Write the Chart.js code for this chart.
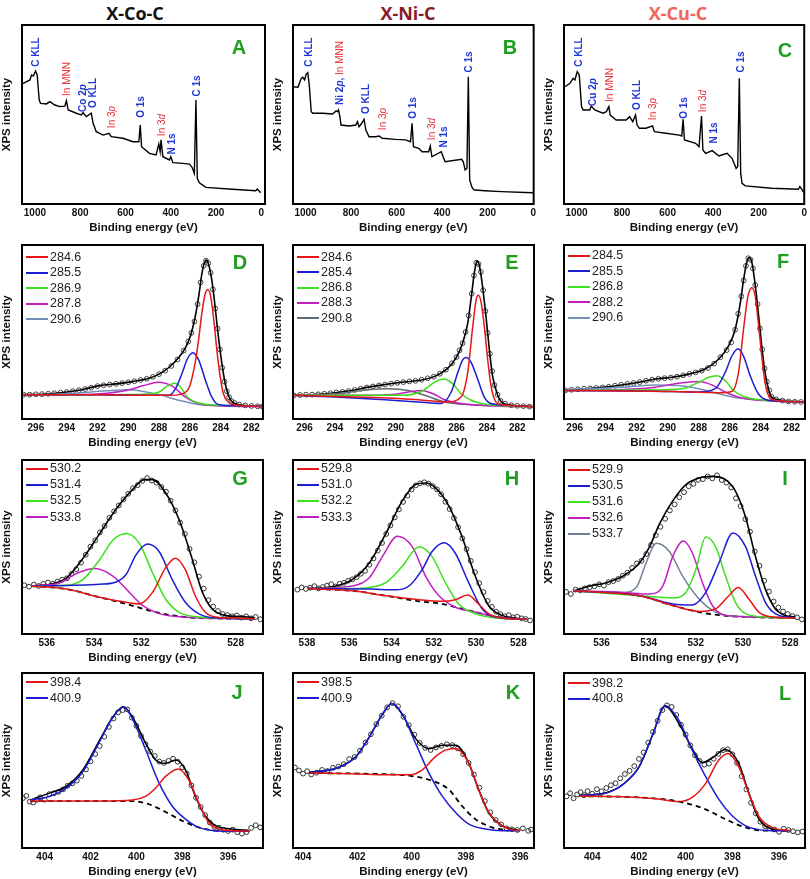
<!DOCTYPE html>
<html><head><meta charset="utf-8">
<script src="https://cdn.jsdelivr.net/npm/chart.js@4.4.0/dist/chart.umd.min.js"></script>
<style>
html,body{margin:0;padding:0;background:#fff;}
body{width:810px;height:879px;overflow:hidden;position:relative;font-family:"Liberation Sans",Arial,sans-serif;}
canvas{position:absolute;}
.t{position:absolute;white-space:nowrap;line-height:1;}
.col{font-family:"Open Sans",sans-serif;font-weight:700;font-size:18px;transform:translate(-50%,-50%);}
.pl{font-weight:700;font-size:20px;color:#1f9e1f;transform:translate(-50%,-50%);}
.an{font-size:10px;transform:translate(-50%,-50%) rotate(-90deg);}
.b{color:#1f35d8;font-weight:700;}
.r{color:#e8303a;font-weight:400;}
.lgl{position:absolute;width:22px;height:0;border-top:2px solid;}
.lgt{position:absolute;font-size:12.5px;color:#222;line-height:1;}
</style></head><body>
<script>
// ---------------- DATA (binding energy eV, intensity in % of frame height) ----------------
const A_trace=[[1059,66.9],[1022,69.3],[1015,72.1],[1007,71.5],[997,74.3],[990,72.1],[981,58.1],[975,56.2],[949,55.9],[934,57.2],[912,55.3],[890,54.4],[868,54.7],[861,57.7],[853,52.5],[817,50.7],[795,49.7],[787,51.0],[773,48.8],[751,50.7],[743,45.1],[729,40.4],[699,38.5],[673,39.5],[663,37.6],[611,36.7],[567,34.8],[541,34.8],[535,44.1],[529,32.0],[494,28.3],[465,27.4],[453,33.5],[447,29.2],[443,35.8],[435,26.4],[406,24.6],[400,26.4],[391,23.1],[347,22.7],[318,22.3],[306,20.5],[296,17.1],[289,58.1],[283,14.3],[274,11.9],[245,9.3],[128,8.2],[25,7.4],[18,8.4],[3,6.3]];
const B_trace=[[1055,65.5],[1033,65.2],[1019,70.2],[1012,70.8],[1004,69.3],[997,72.6],[990,73.4],[983,65.5],[975,51.6],[968,50.7],[924,50.7],[881,50.3],[866,52.0],[859,51.6],[855,52.5],[849,48.8],[844,44.1],[808,43.6],[779,44.1],[772,46.0],[765,43.2],[753,45.1],[743,47.3],[735,41.3],[721,37.6],[692,37.6],[677,38.0],[663,36.7],[605,36.1],[561,35.8],[539,34.8],[532,45.1],[526,32.0],[503,31.1],[488,29.2],[459,29.2],[452,32.4],[445,26.4],[404,29.2],[387,23.6],[314,25.0],[307,23.6],[299,19.0],[291,20.0],[285,71.1],[279,13.4],[270,9.7],[263,8.2],[256,7.8],[212,7.4],[140,6.9],[1,6.3]];
const C_trace=[[1051,65.5],[1029,67.4],[1015,70.2],[1007,69.3],[997,73.9],[988,72.1],[978,54.4],[971,52.5],[942,52.5],[935,54.7],[920,52.5],[884,50.7],[869,51.6],[858,54.4],[852,49.7],[826,46.9],[782,46.9],[767,48.8],[753,46.0],[741,49.7],[734,44.1],[724,42.3],[695,42.3],[666,43.6],[658,40.4],[608,39.5],[549,38.5],[538,38.0],[532,47.3],[526,35.8],[477,33.9],[462,32.0],[451,49.2],[445,30.2],[433,28.3],[404,29.8],[375,26.8],[339,28.3],[317,25.5],[299,19.9],[292,20.9],[285,70.2],[279,17.1],[273,11.5],[259,10.1],[143,8.8],[26,8.2],[19,9.7],[1,6.3]];

// C 1s, X-Co-C
const D_labels=['284.6','285.5','286.9','287.8','290.6'];
const D_data=[[296.8,14.0],[296.4,14.0],[296.0,14.2],[295.6,14.3],[295.2,14.5],[294.8,14.8],[294.4,15.1],[294.0,15.5],[293.6,16.0],[293.2,16.6],[292.8,17.2],[292.4,18.0],[292.0,18.9],[291.6,19.4],[291.2,19.8],[290.8,20.2],[290.4,20.6],[290.0,21.1],[289.6,21.7],[289.2,22.4],[288.8,23.1],[288.4,24.2],[288.0,25.8],[287.6,27.8],[287.2,30.5],[286.8,34.2],[286.4,39.3],[286.1,44.5],[285.9,49.5],[285.7,56.0],[285.5,66.0],[285.3,78.5],[285.1,88.0],[284.95,91.0],[284.8,89.5],[284.65,84.0],[284.5,74.5],[284.35,63.5],[284.2,52.0],[284.05,40.0],[283.9,29.5],[283.75,21.5],[283.6,16.0],[283.45,12.5],[283.3,10.3],[283.1,9.2],[282.8,8.3],[282.4,7.8],[282.0,7.5],[281.6,7.3],[281.3,7.2]];
const D_fit=[[296.9,14.0],[296.15,14.0],[295.08,14.5],[294.0,15.5],[292.93,17.0],[291.86,19.2],[290.79,20.2],[289.72,21.5],[288.65,23.4],[288.0,25.8],[287.36,29.6],[286.72,35.3],[286.29,40.9],[285.97,47.5],[285.65,58.9],[285.43,70.2],[285.22,83.4],[285.05,90.0],[284.92,91.3],[284.79,89.1],[284.57,79.6],[284.36,64.5],[284.15,47.5],[283.93,32.5],[283.72,21.1],[283.5,13.6],[283.29,10.2],[282.86,8.3],[282.0,7.5],[281.25,7.2]];
const D_p1=[[296.9,14.0],[291.9,14.0],[288.7,13.6],[287.2,13.6],[286.72,14.0],[286.08,17.4],[285.65,32.5],[285.43,45.7],[285.22,60.8],[285.0,72.1],[284.83,74.3],[284.66,71.1],[284.47,58.9],[284.25,40.0],[284.04,24.9],[283.82,14.5],[283.5,9.8],[282.86,7.9],[281.25,7.2]];
const D_p2=[[296.9,14.0],[291.9,14.0],[288.65,13.6],[287.36,13.6],[286.93,17.4],[286.5,26.4],[286.18,34.2],[285.8,38.1],[285.43,34.0],[285.0,22.6],[284.57,12.6],[284.15,8.3],[283.29,7.7],[281.25,7.2]];
const D_p3=[[296.9,14.0],[291.9,14.0],[289.0,14.2],[288.0,15.5],[287.47,18.9],[287.0,20.6],[286.6,18.3],[286.18,12.8],[285.43,9.2],[284.36,8.1],[283.29,7.7],[281.25,7.2]];
const D_p4=[[296.9,14.0],[294.0,14.0],[291.86,14.5],[290.15,16.4],[289.0,19.2],[288.05,21.1],[287.15,18.9],[286.29,12.6],[285.43,8.9],[283.72,7.5],[281.25,7.2]];
const D_p5=[[296.9,13.6],[294.0,14.5],[291.4,16.2],[290.0,16.8],[289.1,16.0],[288.0,14.0],[286.72,10.8],[285.43,8.3],[283.72,7.5],[281.25,7.2]];

// C 1s, X-Ni-C
const E_labels=['284.6','285.4','286.8','288.3','290.8'];
const E_data=[[296.7,13.6],[296.3,13.8],[295.9,14.0],[295.5,14.0],[295.1,14.2],[294.7,14.5],[294.3,14.8],[293.9,15.2],[293.5,15.6],[293.1,16.1],[292.7,16.7],[292.3,17.4],[291.9,18.1],[291.5,18.7],[291.1,19.3],[290.7,19.8],[290.3,20.3],[289.9,20.8],[289.5,21.2],[289.1,21.6],[288.7,21.9],[288.3,22.6],[287.9,23.4],[287.5,24.3],[287.1,26.0],[286.7,28.3],[286.3,32.0],[286.0,35.6],[285.8,39.5],[285.6,43.6],[285.4,50.0],[285.2,59.5],[285.0,72.0],[284.85,82.5],[284.7,89.8],[284.55,89.0],[284.4,84.5],[284.25,74.0],[284.1,62.0],[283.95,49.5],[283.8,37.5],[283.65,27.5],[283.5,19.5],[283.3,14.0],[283.1,10.4],[282.8,8.8],[282.4,7.9],[282.0,7.6],[281.6,7.4],[281.2,7.1]];
const E_fit=[[296.76,13.6],[295.06,14.2],[293.97,15.1],[292.88,16.4],[291.80,18.3],[290.71,19.8],[289.62,21.1],[288.53,22.1],[287.44,24.5],[286.57,29.2],[286.02,35.3],[285.59,43.8],[285.26,55.1],[285.04,69.2],[284.82,84.3],[284.65,90.9],[284.48,87.5],[284.28,75.8],[284.06,58.9],[283.84,40.0],[283.63,24.9],[283.30,14.0],[283.08,10.2],[282.65,8.3],[281.77,7.5],[280.90,7.0]];
const E_p1=[[296.76,13.6],[291.80,12.5],[288.53,11.1],[286.57,9.8],[285.70,12.6],[285.26,26.8],[284.93,53.2],[284.71,68.3],[284.56,71.1],[284.39,67.4],[284.17,53.2],[283.95,34.3],[283.73,19.2],[283.47,10.8],[283.08,8.3],[281.77,7.5],[280.90,7.0]];
const E_p2=[[296.76,13.6],[293.97,12.6],[290.71,11.1],[288.53,9.8],[287.0,8.9],[286.35,15.5],[285.91,26.8],[285.59,34.0],[285.37,35.3],[285.04,32.5],[284.61,23.0],[284.17,12.6],[283.73,8.9],[282.65,7.9],[280.90,7.0]];
const E_p3=[[296.76,13.6],[292.88,13.6],[289.62,13.6],[288.31,15.8],[287.44,21.1],[286.83,23.0],[286.24,20.2],[285.70,14.5],[285.04,10.8],[283.95,8.3],[280.90,7.0]];
const E_p4=[[296.76,13.6],[291.80,13.6],[290.05,14.2],[288.96,15.8],[288.27,16.4],[287.55,14.5],[286.78,11.1],[285.70,8.9],[283.52,7.5],[280.90,7.0]];
const E_p5=[[296.76,13.6],[293.97,14.5],[291.80,16.8],[290.49,17.4],[289.18,16.4],[288.09,13.6],[286.78,9.8],[285.26,8.3],[280.90,7.0]];

// C 1s, X-Cu-C
const F_labels=['284.5','285.5','286.8','288.2','290.6'];
const F_data=[[296.6,16.4],[296.2,16.8],[295.8,17.1],[295.4,17.4],[295.0,17.6],[294.6,17.9],[294.2,18.1],[293.8,18.5],[293.4,19.1],[293.0,19.7],[292.6,20.2],[292.2,20.7],[291.8,21.2],[291.4,22.0],[291.0,22.6],[290.6,23.1],[290.2,23.5],[289.8,23.8],[289.4,24.3],[289.0,25.1],[288.6,25.9],[288.2,26.8],[287.8,27.8],[287.4,29.3],[287.0,31.8],[286.6,35.5],[286.2,39.6],[285.9,44.0],[285.65,51.3],[285.45,60.5],[285.25,70.5],[285.1,79.6],[284.95,88.0],[284.8,92.4],[284.65,91.5],[284.5,86.5],[284.35,77.0],[284.2,66.0],[284.05,52.0],[283.9,40.0],[283.75,29.0],[283.6,21.5],[283.45,16.5],[283.3,12.8],[283.0,11.3],[282.6,10.6],[282.2,10.1],[281.8,9.9],[281.4,9.8]];
const F_fit=[[296.69,16.4],[294.01,18.3],[291.86,21.1],[290.79,23.0],[289.72,24.0],[288.65,25.8],[287.58,28.7],[286.72,34.3],[286.08,41.9],[285.65,51.3],[285.32,66.4],[285.11,79.6],[284.90,90.0],[284.75,92.8],[284.57,90.0],[284.36,77.7],[284.15,60.8],[283.93,41.9],[283.72,26.8],[283.50,17.4],[283.29,12.6],[282.65,10.8],[281.14,9.8]];
const F_p1=[[296.69,16.4],[289.72,15.8],[286.72,15.1],[285.86,15.8],[285.43,26.8],[285.11,51.3],[284.83,70.2],[284.57,75.5],[284.36,71.1],[284.15,55.1],[283.93,36.2],[283.72,21.1],[283.50,13.6],[283.07,10.8],[281.14,9.8]];
const F_p2=[[296.69,16.4],[290.79,16.0],[288.0,15.5],[286.93,17.4],[286.29,26.8],[285.86,36.2],[285.47,40.4],[285.11,36.2],[284.68,24.9],[284.15,14.5],[283.50,10.8],[281.14,9.8]];
const F_p3=[[296.69,16.4],[291.86,16.6],[289.08,17.4],[288.0,21.1],[287.36,24.0],[286.83,24.9],[286.29,22.1],[285.75,16.4],[285.0,12.6],[283.72,10.8],[281.14,9.8]];
const F_p4=[[296.69,16.4],[292.93,17.0],[290.79,18.3],[289.29,20.6],[288.05,21.5],[287.15,19.6],[286.29,15.5],[285.22,12.1],[283.29,10.4],[281.14,9.8]];
const F_p5=[[296.69,17.0],[292.93,18.3],[290.79,19.6],[289.29,19.2],[288.0,17.4],[286.72,14.5],[285.43,12.1],[283.29,10.6],[281.14,9.8]];

// O 1s, X-Co-C
const G_labels=['530.2','531.4','532.5','533.8'];
const G_data=[[536.95,28.0],[536.75,27.2],[536.55,28.4],[536.35,27.6],[536.15,28.8],[535.95,29.6],[535.75,28.9],[535.55,30.1],[535.35,31.2],[535.15,32.0],[534.95,34.6],[534.75,37.2],[534.55,41.0],[534.35,45.5],[534.15,50.2],[533.95,53.8],[533.75,58.4],[533.55,62.1],[533.35,66.8],[533.15,70.5],[532.95,73.9],[532.75,77.4],[532.55,80.6],[532.35,83.8],[532.15,85.5],[531.95,88.0],[531.75,89.6],[531.55,88.2],[531.35,86.9],[531.15,84.5],[530.95,81.8],[530.75,76.6],[530.55,71.0],[530.35,64.0],[530.15,57.5],[529.95,48.9],[529.75,41.2],[529.55,33.0],[529.35,26.1],[529.15,19.5],[528.95,15.8],[528.75,13.2],[528.55,11.5],[528.35,10.9],[528.15,10.2],[527.95,10.6],[527.75,9.4],[527.55,10.1],[527.35,9.0],[527.15,9.8],[526.95,8.5]];
const G_fit=[[536.63,27.6],[535.86,28.6],[535.16,32.3],[534.46,43.6],[533.76,57.7],[533.06,71.8],[532.36,83.1],[531.87,88.7],[531.52,88.7],[530.97,81.2],[530.41,66.2],[529.85,43.6],[529.43,24.8],[529.0,14.5],[528.45,10.7],[527.47,9.8],[527.19,9.2]];
const G_p1=[[536.63,27.6],[535.16,25.8],[533.76,21.1],[532.64,18.2],[532.08,17.3],[531.52,23.9],[530.97,38.0],[530.55,43.6],[530.13,37.0],[529.71,22.0],[529.29,12.6],[528.87,9.8],[528.17,9.2],[527.19,8.8]];
const G_p2=[[536.63,27.6],[533.76,28.6],[533.06,29.9],[532.64,34.2],[532.22,45.5],[531.73,51.7],[531.24,47.4],[530.69,31.4],[530.13,18.2],[529.57,11.7],[528.87,9.2],[527.19,8.8]];
const G_p3=[[536.63,27.6],[535.16,28.0],[534.46,31.4],[533.76,42.7],[533.20,53.9],[532.64,57.7],[532.08,52.1],[531.52,35.2],[530.97,20.1],[530.41,12.6],[529.57,9.8],[527.19,8.8]];
const G_p4=[[536.63,27.6],[535.44,29.5],[534.74,34.8],[533.97,37.6],[533.20,33.3],[532.50,23.9],[531.94,16.4],[531.24,11.7],[530.27,9.8],[527.19,8.8]];
const G_bg=[[536.63,27.6],[535.16,25.8],[533.76,21.1],[532.64,17.3],[531.66,13.5],[530.69,10.7],[529.57,9.2],[527.19,8.8]];

// O 1s, X-Ni-C
const H_labels=['529.8','531.0','532.2','533.3'];
const H_data=[[538.45,25.5],[538.25,26.8],[538.05,25.9],[537.85,26.6],[537.65,27.5],[537.45,26.2],[537.25,27.0],[537.05,27.8],[536.85,28.6],[536.65,27.3],[536.45,28.9],[536.25,29.4],[536.05,30.6],[535.85,31.4],[535.65,32.7],[535.45,34.6],[535.25,36.3],[535.05,39.8],[534.85,43.4],[534.65,47.9],[534.45,52.3],[534.25,57.5],[534.05,62.4],[533.85,67.0],[533.65,71.6],[533.45,75.9],[533.25,79.5],[533.05,83.0],[532.85,85.4],[532.65,86.6],[532.45,87.2],[532.25,86.4],[532.05,85.0],[531.85,83.1],[531.65,80.3],[531.45,76.0],[531.25,71.8],[531.05,66.7],[530.85,61.4],[530.65,55.0],[530.45,48.8],[530.25,42.0],[530.05,35.5],[529.85,29.2],[529.65,24.1],[529.45,19.0],[529.25,15.6],[529.05,12.8],[528.85,11.4],[528.65,10.2],[528.45,10.8],[528.25,9.6],[528.05,9.9],[527.85,9.0],[527.65,8.6],[527.45,7.8]];
const H_fit=[[537.95,26.1],[536.62,27.6],[535.84,31.4],[535.05,40.8],[534.27,57.7],[533.49,76.5],[532.86,85.9],[532.39,86.8],[531.92,84.0],[531.29,73.7],[530.66,55.8],[530.04,33.3],[529.41,16.4],[528.78,10.7],[528.16,9.2],[527.61,8.5]];
const H_p1=[[537.95,26.1],[535.84,24.8],[534.27,22.0],[532.70,19.7],[531.61,18.8],[530.98,19.7],[530.40,22.4],[529.88,17.3],[529.41,11.7],[528.78,9.2],[527.61,8.5]];
const H_p2=[[537.95,26.1],[535.05,25.8],[533.80,25.4],[533.17,27.6],[532.55,37.0],[532.08,47.4],[531.50,52.4],[530.98,46.4],[530.35,29.5],[529.72,14.5],[529.10,9.8],[527.61,8.5]];
const H_p3=[[537.95,26.1],[535.84,26.1],[535.05,26.7],[534.27,29.5],[533.49,38.9],[532.70,50.2],[532.08,44.5],[531.45,29.5],[530.82,17.3],[530.04,11.7],[529.10,9.2],[527.61,8.5]];
const H_p4=[[537.95,26.1],[535.84,27.6],[535.05,32.3],[534.43,44.5],[533.72,56.2],[533.02,50.2],[532.39,33.3],[531.76,22.0],[530.98,15.4],[530.04,12.6],[529.10,9.8],[527.61,8.5]];
const H_bg=[[537.95,26.1],[535.84,24.8],[534.27,22.0],[532.70,18.8],[531.61,17.3],[530.66,14.5],[529.72,11.7],[528.78,9.2],[527.61,8.5]];

// O 1s, X-Cu-C
const I_labels=['529.9','530.5','531.6','532.6','533.7'];
const I_data=[[537.5,24.2],[537.3,23.0],[537.1,25.5],[536.9,25.0],[536.7,26.3],[536.5,26.9],[536.3,27.4],[536.1,28.6],[535.9,27.8],[535.7,29.8],[535.5,30.4],[535.3,31.6],[535.1,33.5],[534.9,35.2],[534.7,38.0],[534.5,40.6],[534.3,42.1],[534.1,46.0],[533.9,51.2],[533.7,56.8],[533.5,61.6],[533.3,66.2],[533.1,71.0],[532.9,74.5],[532.7,78.6],[532.5,81.5],[532.3,84.9],[532.1,86.3],[531.9,88.6],[531.7,89.0],[531.5,90.6],[531.3,89.4],[531.1,91.2],[530.9,88.5],[530.7,87.0],[530.5,84.2],[530.3,78.0],[530.1,73.5],[529.9,66.0],[529.7,58.8],[529.5,47.5],[529.3,39.2],[529.1,30.6],[528.9,24.4],[528.7,18.7],[528.5,15.2],[528.3,12.9],[528.1,11.5],[527.9,10.3],[527.7,9.6],[527.5,8.4]];
const I_fit=[[537.19,24.8],[536.49,27.6],[535.79,29.5],[535.09,33.3],[534.39,40.8],[533.96,50.2],[533.54,63.3],[532.98,76.5],[532.42,85.9],[531.86,89.7],[531.30,90.6],[530.74,88.7],[530.32,82.1],[529.89,67.1],[529.47,44.5],[529.05,25.8],[528.63,14.5],[528.21,10.7],[527.79,9.8]];
const I_p1=[[537.19,24.8],[534.39,22.0],[532.98,16.4],[531.86,13.0],[531.16,14.5],[530.60,22.0],[530.20,26.7],[529.75,20.1],[529.33,12.6],[528.77,9.8],[527.79,9.2]];
const I_p2=[[537.19,24.8],[534.39,22.0],[532.98,17.3],[532.14,16.7],[531.58,23.9],[531.02,40.8],[530.43,58.1],[529.89,50.2],[529.47,33.3],[529.05,18.2],[528.63,11.7],[527.79,9.2]];
const I_p3=[[537.19,24.8],[534.39,22.0],[532.98,20.7],[532.42,23.9],[532.0,37.0],[531.58,55.8],[531.16,50.2],[530.74,33.3],[530.32,18.2],[529.89,11.7],[529.05,9.8],[527.79,9.2]];
const I_p4=[[537.19,24.8],[535.09,23.9],[533.96,23.0],[533.40,27.6],[532.98,44.5],[532.53,53.4],[532.14,46.4],[531.72,29.5],[531.30,16.4],[530.74,10.7],[529.47,9.8],[527.79,9.2]];
const I_p5=[[537.19,24.8],[535.09,23.9],[534.53,26.7],[534.11,40.8],[533.68,52.1],[533.12,47.4],[532.56,33.3],[531.86,20.1],[531.16,12.6],[530.46,10.3],[529.47,9.8],[527.79,9.2]];
const I_bg=[[537.19,24.8],[534.39,22.0],[532.98,16.4],[531.86,12.6],[530.88,10.7],[529.89,9.8],[527.79,9.2]];

// N 1s, X-Co-C
const J_labels=['398.4','400.9'];
const J_data=[[404.95,28.5],[404.8,29.8],[404.65,26.5],[404.5,26.0],[404.35,27.5],[404.2,29.0],[404.0,27.6],[403.8,30.8],[403.6,31.2],[403.4,32.0],[403.2,33.5],[403.0,35.6],[402.8,36.9],[402.6,38.5],[402.4,41.2],[402.2,44.9],[402.0,49.5],[401.8,53.7],[401.6,58.3],[401.4,63.6],[401.2,69.2],[401.0,74.0],[400.8,77.5],[400.6,78.8],[400.4,79.2],[400.2,74.5],[400.0,69.8],[399.8,64.0],[399.6,59.3],[399.4,55.2],[399.2,52.6],[399.0,49.4],[398.8,48.6],[398.6,49.8],[398.4,51.0],[398.2,49.3],[398.0,46.1],[397.8,42.5],[397.6,35.8],[397.4,28.7],[397.2,23.4],[397.0,18.8],[396.8,14.5],[396.6,12.1],[396.4,11.6],[396.2,10.4],[396.0,9.7],[395.8,10.5],[395.6,9.0],[395.4,8.2],[395.2,9.1],[395.0,11.5],[394.8,13.0],[394.6,11.8]];
const J_fit=[[404.63,27.4],[403.77,31.5],[403.05,35.3],[402.33,44.7],[401.61,61.5],[401.03,74.7],[400.57,80.7],[400.17,74.7],[399.59,59.7],[399.16,50.3],[398.73,48.4],[398.29,50.3],[397.86,44.7],[397.43,29.6],[397.0,18.4],[396.56,12.8],[395.84,10.9],[395.12,9.9]];
const J_p1=[[404.63,26.8],[403.05,26.8],[401.61,26.8],[400.17,27.4],[399.59,29.6],[399.16,34.3],[398.73,40.9],[398.18,45.2],[397.72,39.0],[397.29,25.9],[396.85,14.6],[396.42,10.9],[395.84,9.9],[395.05,9.6]];
const J_p2=[[404.63,27.4],[403.77,29.6],[403.05,34.3],[402.33,43.7],[401.61,60.6],[401.03,74.7],[400.57,80.7],[400.17,73.7],[399.59,55.9],[399.01,37.1],[398.44,24.0],[397.86,16.5],[397.29,11.8],[396.56,9.9],[395.84,9.6],[395.05,9.6]];
const J_bg=[[404.63,26.8],[401.61,26.8],[400.17,26.8],[399.45,25.0],[398.73,20.6],[398.01,15.6],[397.29,11.8],[396.56,9.9],[395.56,9.6]];

// N 1s, X-Ni-C
const K_labels=['398.5','400.9'];
const K_data=[[404.3,46.0],[404.15,44.3],[404.0,42.5],[403.85,43.9],[403.7,42.0],[403.5,43.0],[403.3,44.6],[403.1,44.0],[402.9,45.8],[402.7,46.5],[402.5,47.9],[402.3,50.8],[402.1,52.0],[401.9,55.6],[401.7,60.2],[401.5,65.0],[401.3,70.8],[401.1,75.6],[400.9,80.3],[400.7,82.8],[400.5,81.0],[400.3,75.0],[400.1,70.2],[399.9,64.8],[399.7,60.0],[399.5,57.2],[399.3,56.0],[399.1,57.5],[398.9,58.4],[398.7,59.3],[398.5,58.8],[398.3,56.9],[398.1,53.6],[397.9,48.6],[397.7,42.0],[397.5,34.5],[397.3,26.8],[397.1,20.4],[396.9,16.0],[396.7,13.5],[396.5,11.2],[396.3,10.7],[396.1,10.3],[395.9,11.2],[395.7,9.8],[395.6,10.6]];
const K_fit=[[403.76,43.2],[402.78,45.6],[402.05,52.2],[401.56,63.4],[401.07,76.5],[400.73,82.6],[400.34,76.2],[399.85,62.5],[399.36,56.8],[398.87,58.7],[398.38,58.7],[397.89,48.4],[397.53,33.4],[397.16,20.3],[396.67,12.8],[396.06,10.1]];
const K_p1=[[403.76,42.8],[402.17,42.4],[400.95,41.8],[400.09,41.8],[399.60,44.7],[399.12,52.2],[398.75,55.9],[398.38,56.8],[397.89,48.4],[397.53,33.4],[397.16,20.3],[396.67,12.8],[396.31,10.5],[396.0,9.9]];
const K_p2=[[403.76,43.2],[402.78,45.6],[402.05,52.2],[401.56,63.4],[401.07,76.5],[400.73,82.6],[400.34,76.5],[399.85,59.7],[399.36,42.8],[398.87,29.6],[398.38,20.3],[397.89,13.7],[397.28,10.9],[396.67,9.9],[396.0,9.9]];
const K_bg=[[403.76,42.8],[401.56,42.4],[400.09,41.3],[399.36,39.0],[398.63,33.4],[398.14,24.0],[397.65,16.5],[397.04,11.8],[396.43,9.9]];

// N 1s, X-Cu-C
const L_labels=['398.2','400.8'];
const L_data=[[405.1,29.5],[404.95,31.3],[404.8,28.4],[404.65,30.6],[404.5,31.9],[404.35,30.2],[404.2,32.5],[404.0,31.0],[403.8,33.6],[403.6,32.4],[403.4,34.3],[403.2,35.9],[403.0,37.0],[402.8,39.8],[402.6,42.3],[402.4,44.1],[402.2,46.8],[402.0,50.9],[401.8,54.6],[401.6,60.2],[401.4,66.3],[401.2,72.7],[401.0,78.8],[400.8,81.5],[400.6,80.6],[400.4,76.0],[400.2,70.4],[400.0,64.8],[399.8,58.6],[399.6,53.0],[399.4,49.7],[399.2,47.6],[399.0,48.2],[398.8,51.0],[398.6,53.8],[398.4,55.9],[398.2,56.4],[398.0,53.5],[397.8,48.6],[397.6,41.0],[397.4,33.5],[397.2,25.8],[397.0,19.8],[396.8,15.0],[396.6,12.5],[396.4,11.3],[396.2,10.6],[396.0,9.2],[395.8,11.0],[395.6,10.3],[395.4,9.6],[395.2,8.9],[395.0,9.4]];
const L_fit=[[404.54,30.0],[403.40,31.5],[402.70,36.2],[401.99,46.5],[401.42,64.4],[400.88,81.2],[400.28,70.9],[399.72,56.8],[399.29,48.8],[398.87,51.4],[398.30,56.3],[397.73,48.4],[397.30,31.5],[396.88,16.9],[396.31,10.9],[395.60,9.9]];
const L_p1=[[404.54,29.6],[402.70,29.3],[401.28,28.1],[400.28,26.5],[399.72,28.9],[399.15,36.8],[398.58,50.3],[398.18,54.0],[397.73,46.5],[397.30,31.5],[396.88,18.4],[396.31,11.8],[395.53,9.9]];
const L_p2=[[404.54,30.0],[403.40,31.5],[402.70,36.2],[401.99,46.5],[401.42,64.4],[400.88,81.2],[400.28,72.8],[399.72,55.9],[399.15,40.9],[398.58,27.8],[398.01,18.4],[397.45,12.8],[396.88,10.5],[396.31,9.9],[395.53,9.9]];
const L_bg=[[404.54,29.6],[401.99,28.9],[400.28,26.5],[399.15,22.1],[398.30,16.5],[397.45,11.8],[396.60,9.9],[395.53,9.9]];

// ---------------- LAYOUT / STYLE ----------------
const YW=22, XH=35;
const COLS=[[22,265],[293,536],[564,807]];
const ROWS=[[25,204],[242,419],[457,634],[670,848]];
const RED='#e51616', BLUE='#1c1cd2', GREEN='#3de01c', MAG='#c21fc2', GRAY='#6e8096', GRAY2='#5f6b73', GRAYB='#7391b8';
const FONT='"Liberation Sans", Arial, sans-serif';

function circles(data,c){return {data,showLine:false,pointRadius:2.4,pointBorderWidth:1,pointBorderColor:c||'#333',pointBackgroundColor:'rgba(255,255,255,0)',order:4};}
function fit(data){return {data,borderColor:'#000',borderWidth:1.6,pointRadius:0,order:3,cubicInterpolationMode:'monotone'};}
function comp(data,color,label){return {data,label,borderColor:color,borderWidth:1.5,pointRadius:0,order:1,cubicInterpolationMode:'monotone'};}
function bg(data){return {data,borderColor:'#000',borderWidth:1.8,borderDash:[5,4],pointRadius:0,order:2,cubicInterpolationMode:'monotone'};}
function trace(data){return {data,borderColor:'#000',borderWidth:1.4,pointRadius:0,tension:0,order:1};}

const framePlugin={id:'frame',afterDraw(chart){const a=chart.chartArea,ctx=chart.ctx;ctx.save();ctx.strokeStyle='#000';ctx.lineWidth=2;ctx.strokeRect(a.left,a.top,a.right-a.left,a.bottom-a.top);ctx.restore();}};

function addText(html,cls,x,y,style){const d=document.createElement('div');d.className='t '+cls;d.innerHTML=html;d.style.left=x+'px';d.style.top=y+'px';if(style)d.style.cssText+=style;document.body.appendChild(d);}

function panel(p){
  const [l,r]=COLS[p.col],[t,b]=ROWS[p.row];
  const w=(r-l)+YW+3,h=(b-t)+2+XH;
  const c=document.createElement('canvas');
  c.width=w;c.height=h;c.style.left=(l-YW)+'px';c.style.top=(t-2)+'px';c.style.width=w+'px';c.style.height=h+'px';
  document.body.appendChild(c);
  new Chart(c,{type:'line',data:{datasets:p.sets},plugins:[framePlugin],options:{
    responsive:false,animation:false,devicePixelRatio:1,
    layout:{padding:{left:0,right:3,top:2,bottom:0}},
    plugins:{legend:{display:false},tooltip:{enabled:false}},
    scales:{
      x:{type:'linear',reverse:true,min:p.x[0],max:p.x[1],
        afterFit(s){s.height=XH;},
        grid:{display:false,drawTicks:false},border:{display:false},
        ticks:{stepSize:p.step,includeBounds:false,autoSkip:false,maxRotation:0,padding:3,color:'#111',font:{family:FONT,size:10,weight:'bold'},callback:v=>String(v)},
        title:{display:true,text:'Binding energy (eV)',color:'#111',padding:{top:0,bottom:4},font:{family:FONT,size:11.5,weight:'bold'}}},
      y:{min:0,max:100,afterFit(s){s.width=YW;},
        grid:{display:false,drawTicks:false},border:{display:false},ticks:{display:false},
        title:{display:true,text:'XPS intensity',color:'#111',padding:{top:0,bottom:0},font:{family:FONT,size:11.5,weight:'bold'}}}
    }}});
  addText(p.id,'pl',p.letter[0],p.letter[1]);
  if(p.legend){
    const comps=p.sets.filter(s=>s.label);
    comps.forEach((s,i)=>{
      const cy=t+p.lg[0]+i*p.lg[1];
      const ln=document.createElement('div');ln.className='lgl';ln.style.left=(l+4)+'px';ln.style.top=(cy-1)+'px';ln.style.borderTopColor=s.borderColor;document.body.appendChild(ln);
      const tx=document.createElement('div');tx.className='lgt';tx.textContent=s.label;tx.style.left=(l+28)+'px';tx.style.top=(cy-6.5)+'px';document.body.appendChild(tx);
    });
  }
}

// column titles
addText('X-Co-C','col',135,13,'color:#111;');
addText('X-Ni-C','col',408,13,'color:#8a1a2a;');
addText('X-Cu-C','col',678,13,'color:#f06464;text-shadow:0 0 2px #fff6cc;');

// survey annotations
const notes=[
 ['C KLL','b',36,52],['In MNN','r',67,79],['Co 2<i>p</i>','b',83,98],['O KLL','b',93,93],['In 3<i>p</i>','r',112,117],['O 1s','b',141,107],['In 3<i>d</i>','r',162,125],['N 1s','b',172,144],['C 1s','b',197,86],
 ['C KLL','b',309,52],['Ni 2<i>p</i>, <span class="r">In MNN</span>','b',340,73],['O KLL','b',366,99],['In 3<i>p</i>','r',383,119],['O 1s','b',413,108],['In 3<i>d</i>','r',432,129],['N 1s','b',444,137],['C 1s','b',469,62],
 ['C KLL','b',579,52],['Cu 2<i>p</i>','b',593,92],['In MNN','r',610,85],['O KLL','b',637,95],['In 3<i>p</i>','r',653,109],['O 1s','b',684,108],['In 3<i>d</i>','r',703,101],['N 1s','b',714,133],['C 1s','b',741,62]
];

const panels=[
 {id:'A',col:0,row:0,x:[-16,1057],step:200,letter:[239,47],sets:[trace(A_trace)]},
 {id:'B',col:1,row:0,x:[-2,1055],step:200,letter:[510,47],sets:[trace(B_trace)]},
 {id:'C',col:2,row:0,x:[0,1055],step:200,letter:[785,50],sets:[trace(C_trace)]},
 {id:'D',col:0,row:1,x:[281.25,296.9],step:2,letter:[240,262],legend:true,lg:[15,15.6],sets:[circles(D_data,'#444'),fit(D_fit),comp(D_p1,RED,D_labels[0]),comp(D_p2,BLUE,D_labels[1]),comp(D_p3,GREEN,D_labels[2]),comp(D_p4,MAG,D_labels[3]),comp(D_p5,GRAYB,D_labels[4])]},
 {id:'E',col:1,row:1,x:[280.9,296.76],step:2,letter:[512,262],legend:true,lg:[15,15.3],sets:[circles(E_data,'#444'),fit(E_fit),comp(E_p1,RED,E_labels[0]),comp(E_p2,BLUE,E_labels[1]),comp(E_p3,GREEN,E_labels[2]),comp(E_p4,MAG,E_labels[3]),comp(E_p5,GRAY2,E_labels[4])]},
 {id:'F',col:2,row:1,x:[281.14,296.69],step:2,letter:[783,261],legend:true,lg:[13.5,15.5],sets:[circles(F_data,'#444'),fit(F_fit),comp(F_p1,RED,F_labels[0]),comp(F_p2,BLUE,F_labels[1]),comp(F_p3,GREEN,F_labels[2]),comp(F_p4,MAG,F_labels[3]),comp(F_p5,GRAYB,F_labels[4])]},
 {id:'G',col:0,row:2,x:[526.84,537.05],step:2,letter:[240,478],legend:true,lg:[11.5,16.2],sets:[circles(G_data),fit(G_fit),bg(G_bg),comp(G_p1,RED,G_labels[0]),comp(G_p2,BLUE,G_labels[1]),comp(G_p3,GREEN,G_labels[2]),comp(G_p4,MAG,G_labels[3])]},
 {id:'H',col:1,row:2,x:[527.26,538.66],step:2,letter:[512,478],legend:true,lg:[11.5,16.2],sets:[circles(H_data),fit(H_fit),bg(H_bg),comp(H_p1,RED,H_labels[0]),comp(H_p2,BLUE,H_labels[1]),comp(H_p3,GREEN,H_labels[2]),comp(H_p4,MAG,H_labels[3])]},
 {id:'I',col:2,row:2,x:[527.37,537.59],step:2,letter:[785,478],legend:true,lg:[12.5,16],sets:[circles(I_data),fit(I_fit),bg(I_bg),comp(I_p1,RED,I_labels[0]),comp(I_p2,BLUE,I_labels[1]),comp(I_p3,GREEN,I_labels[2]),comp(I_p4,MAG,I_labels[3]),comp(I_p5,GRAY,I_labels[4])]},
 {id:'J',col:0,row:3,x:[394.48,404.99],step:2,letter:[237,692],legend:true,lg:[12,16],sets:[circles(J_data),fit(J_fit),bg(J_bg),comp(J_p1,RED,J_labels[0]),comp(J_p2,BLUE,J_labels[1])]},
 {id:'K',col:1,row:3,x:[395.49,404.37],step:2,letter:[513,692],legend:true,lg:[12,16],sets:[circles(K_data),fit(K_fit),bg(K_bg),comp(K_p1,RED,K_labels[0]),comp(K_p2,BLUE,K_labels[1])]},
 {id:'L',col:2,row:3,x:[394.89,405.21],step:2,letter:[785,693],legend:true,lg:[13,15.5],sets:[circles(L_data),fit(L_fit),bg(L_bg),comp(L_p1,RED,L_labels[0]),comp(L_p2,BLUE,L_labels[1])]}
];
panels.forEach(panel);
notes.forEach(n=>addText(n[0],'an '+n[1],n[2],n[3]));
</script>
</body></html>
